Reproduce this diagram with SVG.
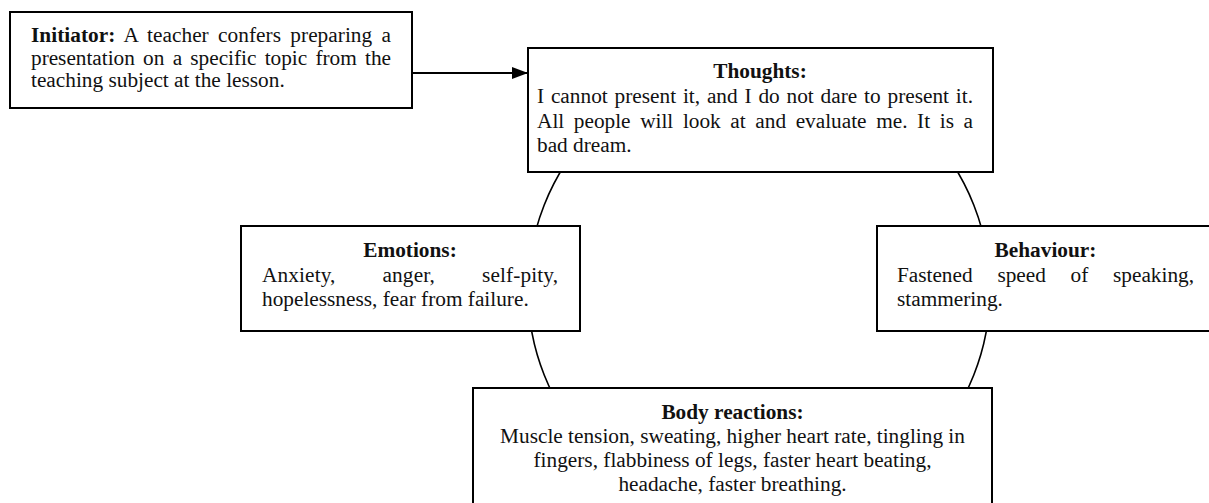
<svg xmlns="http://www.w3.org/2000/svg" width="1209" height="503" viewBox="0 0 1209 503">
<style>
.box{fill:#fff;stroke:#000;stroke-width:2}
.t{font-family:"Liberation Serif","Times New Roman",serif;font-size:21.3px;fill:#111}
.b{font-weight:bold}
.c{text-anchor:middle}
.conn{fill:none;stroke:#000;stroke-width:1.6}
</style>
<defs>
<marker id="ah" markerWidth="16" markerHeight="12" refX="15" refY="6" orient="auto" markerUnits="userSpaceOnUse">
<path d="M0,0 L16,6 L0,12 Z" fill="#000"/>
</marker>
</defs>
<rect width="1209" height="503" fill="#fff"/>
<g id="connectors">
<circle class="conn" cx="759" cy="290" r="231"/>
<line x1="412" y1="73" x2="527" y2="73" stroke="#000" stroke-width="2" marker-end="url(#ah)"/>
</g>
<g id="initiator">
<rect class="box" x="10" y="12" width="402" height="96"/>
<text class="t" x="31" y="42" word-spacing="4" textLength="360" lengthAdjust="spacing"><tspan class="b">Initiator:</tspan> A teacher confers preparing a</text>
<text class="t" x="31" y="64.5" word-spacing="3" textLength="360" lengthAdjust="spacing">presentation on a specific topic from the</text>
<text class="t" x="31" y="87">teaching subject at the lesson.</text>
</g>
<g id="thoughts">
<rect class="box" x="528" y="48" width="465" height="124"/>
<text class="t b c" x="760" y="78">Thoughts:</text>
<text class="t" x="537" y="103" word-spacing="1.5" textLength="436" lengthAdjust="spacing">I cannot present it, and I do not dare to present it.</text>
<text class="t" x="537" y="127.5" word-spacing="4.3" textLength="436" lengthAdjust="spacing">All people will look at and evaluate me. It is a</text>
<text class="t" x="537" y="151.5">bad dream.</text>
</g>
<g id="emotions">
<rect class="box" x="241" y="226" width="339" height="105"/>
<text class="t b c" x="410" y="257">Emotions:</text>
<text class="t" x="262" y="282" word-spacing="41.5" textLength="296" lengthAdjust="spacing">Anxiety, anger, self-pity,</text>
<text class="t" x="262" y="306">hopelessness, fear from failure.</text>
</g>
<g id="behaviour">
<rect class="box" x="877" y="226" width="340" height="105"/>
<text class="t b c" x="1045.5" y="257">Behaviour:</text>
<text class="t" x="897" y="282" word-spacing="19.5" textLength="297" lengthAdjust="spacing">Fastened speed of speaking,</text>
<text class="t" x="897" y="306">stammering.</text>
</g>
<g id="body">
<rect class="box" x="473" y="388" width="519" height="130"/>
<text class="t b c" x="732.5" y="419">Body reactions:</text>
<text class="t c" x="732.5" y="443">Muscle tension, sweating, higher heart rate, tingling in</text>
<text class="t c" x="732.5" y="467">fingers, flabbiness of legs, faster heart beating,</text>
<text class="t c" x="732.5" y="491">headache, faster breathing.</text>
</g>
</svg>
